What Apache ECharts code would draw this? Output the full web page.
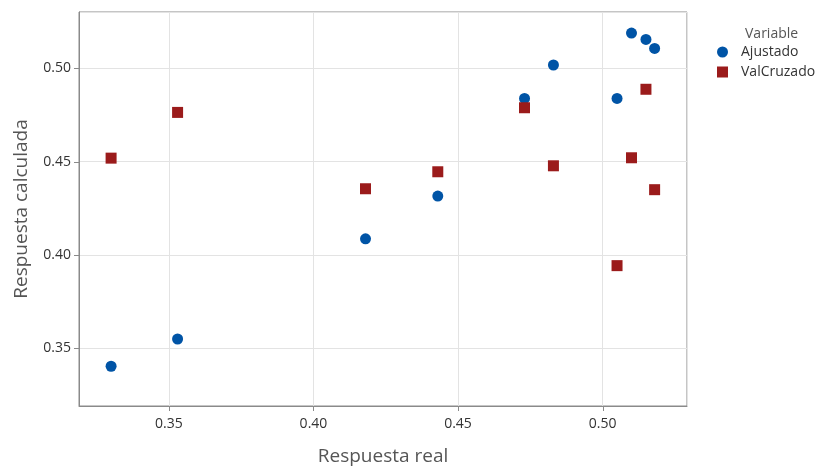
<!DOCTYPE html>
<html>
<head>
<meta charset="utf-8">
<script src="https://cdn.jsdelivr.net/npm/echarts@6/dist/echarts.min.js"></script>
<style>
html,body{margin:0;padding:0;background:#fff;}
#chart{width:822px;height:469px;}
</style>
</head>
<body>
<div id="chart"></div>
<script>
const realValues = [0.330, 0.353, 0.418, 0.443, 0.473, 0.483, 0.505, 0.510, 0.515, 0.518];
const ajustado   = [0.3404, 0.3550, 0.4087, 0.4316, 0.4839, 0.5018, 0.4839, 0.5189, 0.5155, 0.5107];
const valCruzado = [0.4519, 0.4764, 0.4355, 0.4446, 0.4789, 0.4478, 0.3943, 0.4521, 0.4888, 0.4350];
const xTicks = [0.35, 0.40, 0.45, 0.50];
const yTicks = [0.35, 0.40, 0.45, 0.50];
const seriesNames = ['Ajustado', 'ValCruzado'];
const legendTitle = 'Variable';
const xTitle = 'Respuesta real';
const yTitle = 'Respuesta calculada';

const font = '"Open Sans", "Noto Sans", sans-serif';
const axisColor = '#8a8a8a';
const xMin = 0.3189, xMax = 0.5292, yMin = 0.3191, yMax = 0.5302;
const chart = echarts.init(document.getElementById('chart'), null, {renderer: 'canvas'});

const axisCommon = {
  type: 'value',
  splitNumber: 4,
  axisLine: {show: true, onZero: false, lineStyle: {color: axisColor, width: 1}},
  axisTick: {show: false},
  splitLine: {show: true, lineStyle: {color: '#e3e3e3', width: 1}},
  axisLabel: {color: '#333', fontFamily: font, fontSize: 14},
  nameLocation: 'middle',
  nameTextStyle: {color: '#555', fontFamily: font, fontSize: 19}
};

function tickLabelFor(list) {
  return v => (list.some(t => Math.abs(t - v) < 1e-9) ? v.toFixed(2) : '');
}

chart.setOption({
  backgroundColor: '#fff',
  animation: false,
  grid: {left: 79, right: 135, top: 12, bottom: 63, show: true, borderColor: axisColor, borderWidth: 1,
         containLabel: false, outerBoundsMode: 'none'},
  title: {
    text: legendTitle, left: 740, top: 22,
    textStyle: {color: '#555', fontFamily: font, fontSize: 14, fontWeight: 'normal'}
  },
  legend: {
    orient: 'vertical', left: 712, top: 40, itemGap: 6,
    itemWidth: 11, itemHeight: 11, itemStyle: {borderWidth: 0, opacity: 1},
    textStyle: {color: '#333', fontFamily: font, fontSize: 14, padding: [0, 0, 0, 8]},
    data: [{name: seriesNames[0], icon: 'circle'}, {name: seriesNames[1], icon: 'rect'}]
  },
  xAxis: Object.assign({}, axisCommon, {
    min: xMin, max: xMax,
    axisLabel: Object.assign({}, axisCommon.axisLabel, {margin: 11, formatter: tickLabelFor(xTicks)}),
    name: xTitle, nameGap: 41
  }),
  yAxis: Object.assign({}, axisCommon, {
    min: yMin, max: yMax,
    axisLabel: Object.assign({}, axisCommon.axisLabel, {margin: 8, formatter: tickLabelFor(yTicks)}),
    name: yTitle, nameGap: 48
  }),
  series: [
    {
      name: seriesNames[0], type: 'scatter', symbol: 'circle', symbolSize: 11,
      itemStyle: {color: '#0054a6', opacity: 1},
      data: realValues.map((x, i) => [x, ajustado[i]])
    },
    {
      name: seriesNames[1], type: 'scatter', symbol: 'rect', symbolSize: 11,
      itemStyle: {color: '#9b1b1b', opacity: 1},
      data: realValues.map((x, i) => [x, valCruzado[i]])
    }
  ]
});

// Outward tick marks at the labelled values, positioned through the axis scales
const tickLen = 5;
const ticks = [];
xTicks.forEach(v => {
  const p = chart.convertToPixel({gridIndex: 0}, [v, yMin]);
  const x = Math.round(p[0]) + 0.5;
  ticks.push({type: 'line', silent: true, z: 100, shape: {x1: x, y1: p[1], x2: x, y2: p[1] + tickLen},
              style: {stroke: axisColor, lineWidth: 1}});
});
yTicks.forEach(v => {
  const p = chart.convertToPixel({gridIndex: 0}, [xMin, v]);
  const y = Math.round(p[1]) + 0.5;
  ticks.push({type: 'line', silent: true, z: 100, shape: {x1: p[0] - tickLen, y1: y, x2: p[0], y2: y},
              style: {stroke: axisColor, lineWidth: 1}});
});
chart.setOption({graphic: ticks});
</script>
</body>
</html>
